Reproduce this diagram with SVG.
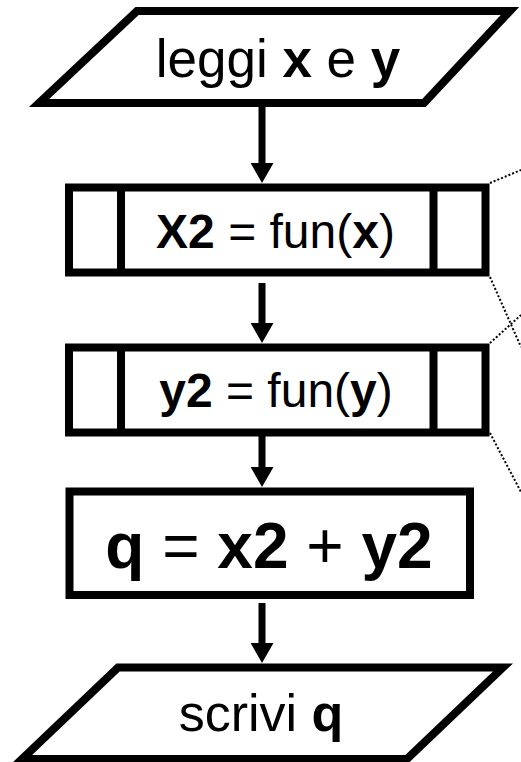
<svg xmlns="http://www.w3.org/2000/svg" width="521" height="762" viewBox="0 0 521 762">
<style>
.shape{fill:#fff;stroke:#000;stroke-width:8;stroke-miterlimit:10}
.div{stroke:#000;stroke-width:8}
.t{font-family:"Liberation Sans",Arial,sans-serif;fill:#000;text-anchor:middle}
.b{font-weight:bold}
.flow{stroke:#000;stroke-width:7;fill:none}
.dot{stroke:#000;stroke-width:2;stroke-dasharray:2 2;fill:none}
</style>
<defs>
<marker id="ah" markerUnits="userSpaceOnUse" markerWidth="20" markerHeight="23" viewBox="0 0 20 23" refX="0" refY="11.5" orient="auto">
<path d="M0,0 L20,11.5 L0,23 z" fill="#000"/>
</marker>
</defs>
<rect width="521" height="762" fill="#fff"/>
<g id="connectors">
<line class="flow" x1="262" y1="107" x2="262" y2="163" marker-end="url(#ah)"/>
<line class="flow" x1="262" y1="283" x2="262" y2="323" marker-end="url(#ah)"/>
<line class="flow" x1="262" y1="436" x2="262" y2="467" marker-end="url(#ah)"/>
<line class="flow" x1="262" y1="603" x2="262" y2="643" marker-end="url(#ah)"/>
<line class="dot" x1="490" y1="183" x2="521" y2="170"/>
<line class="dot" x1="490" y1="277" x2="521" y2="347"/>
<line class="dot" x1="490" y1="343" x2="521" y2="315"/>
<line class="dot" x1="490" y1="433" x2="521" y2="492"/>
</g>
<g id="input">
<polygon class="shape" points="137,11 510,11 424,103 39,103"/>
<text class="t" x="278" y="77" font-size="53">leggi <tspan class="b">x</tspan> e <tspan class="b">y</tspan></text>
</g>
<g id="sub1">
<rect class="shape" x="69" y="187.5" width="416.5" height="85"/>
<line class="div" x1="121" y1="187.5" x2="121" y2="272.5"/>
<line class="div" x1="433.5" y1="187.5" x2="433.5" y2="272.5"/>
<text class="t" x="275.5" y="248" font-size="48"><tspan class="b">X2</tspan> = fun(<tspan class="b">x</tspan>)</text>
</g>
<g id="sub2">
<rect class="shape" x="69" y="347.5" width="416.5" height="85"/>
<line class="div" x1="121" y1="347.5" x2="121" y2="432.5"/>
<line class="div" x1="433.5" y1="347.5" x2="433.5" y2="432.5"/>
<text class="t" x="276" y="407" font-size="48"><tspan class="b">y2</tspan> = fun(<tspan class="b">y</tspan>)</text>
</g>
<g id="calc">
<rect class="shape" x="69.5" y="491.5" width="400.5" height="103.5"/>
<text class="t" x="269" y="568" font-size="64"><tspan class="b">q</tspan> = <tspan class="b">x2</tspan> + <tspan class="b">y2</tspan></text>
</g>
<g id="output">
<polygon class="shape" points="118,667.5 503,667.5 407,759 22,759"/>
<text class="t" x="261" y="731" font-size="52">scrivi <tspan class="b">q</tspan></text>
</g>
</svg>
